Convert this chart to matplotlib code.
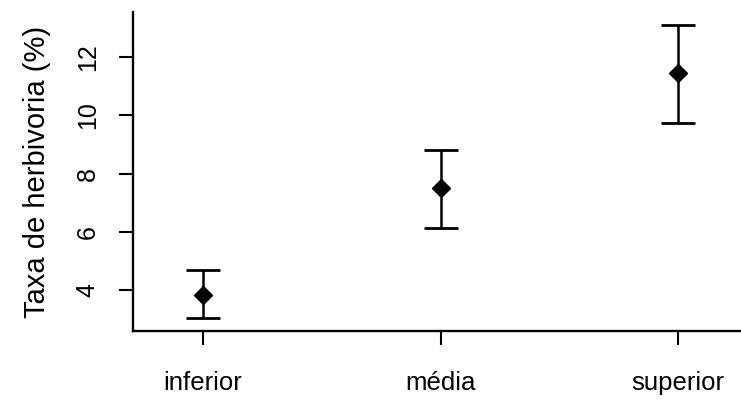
import matplotlib
matplotlib.use("Agg")
import matplotlib.pyplot as plt

grupos = ["inferior", "média", "superior"]
media = [3.84, 7.51, 11.44]
sup = [4.69, 8.82, 13.09]
inf = [3.03, 6.14, 9.75]
yticks = [4, 6, 8, 10, 12]

plt.rcParams['font.family'] = ['Liberation Sans', 'DejaVu Sans']

x = [1, 2, 3]
err = [[m - i for m, i in zip(media, inf)], [s - m for m, s in zip(media, sup)]]

fig = plt.figure(figsize=(7.41, 4.01), dpi=100)
ax = fig.add_axes([133/741, 70/401, 608/741, 319/401])
ax.errorbar(x, media, yerr=err, fmt="D", color="black", ms=9, capsize=12,
            elinewidth=1.8, capthick=2.0)

ax.set_xlim(0.705, 3.265)
ax.set_ylim(2.6, 13.54)
ax.set_xticks(x)
ax.set_xticklabels(grupos)
ax.set_yticks(yticks)
ax.set_yticklabels([str(t) for t in yticks], va="center")
ax.tick_params(length=10, width=1.5)
ax.tick_params(axis="y", pad=14, labelsize=18, labelrotation=90)
ax.tick_params(axis="x", pad=19, labelsize=18.5)
ax.set_ylabel("Taxa de herbivoria (%)", fontsize=21, labelpad=18)
for s in ["top", "right"]:
    ax.spines[s].set_visible(False)
for s in ["left", "bottom"]:
    ax.spines[s].set_linewidth(1.7)

fig.savefig("out.png", dpi=100)
